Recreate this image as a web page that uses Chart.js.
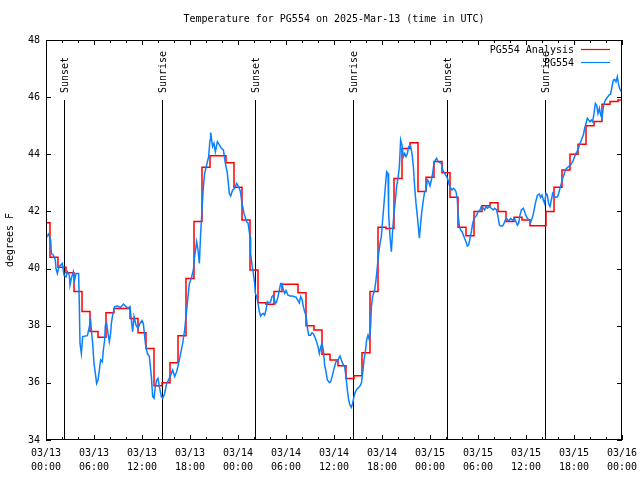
<!DOCTYPE html>
<html>
<head>
<meta charset="utf-8">
<title>Temperature for PG554</title>
<script src="https://cdn.jsdelivr.net/npm/chart.js@4.4.1/dist/chart.umd.min.js"></script>
<style>
  html, body { margin: 0; padding: 0; background: #fff; }
</style>
</head>
<body>
<canvas id="tempChart" width="640" height="480"></canvas>
<script>
// hours since 03/13 00:00 UTC
const redTemps = [41.6, 40.4, 40.05, 39.85, 39.2, 38.5, 37.8, 37.6, 38.45, 38.6, 38.6, 38.25, 37.75,
  37.2, 35.9, 36.0, 36.7, 37.65, 39.65, 41.65, 43.55, 43.95, 43.95, 43.7, 42.85,
  41.7, 39.95, 38.8, 38.75, 39.2, 39.45, 39.45, 39.15, 38.0, 37.85, 37.0, 36.8,
  36.6, 36.15, 36.25, 37.05, 39.2, 41.45, 41.4, 43.15, 44.2, 44.4, 42.7, 43.2,
  43.75, 43.35, 42.5, 41.45, 41.15, 42.0, 42.2, 42.3, 42.0, 41.65, 41.8, 41.7,
  41.5, 41.5, 42.0, 42.85, 43.45, 44.0, 44.35, 45.0, 45.15, 45.75, 45.85, 45.9];

const blueHours = [0, 0.08, 0.33, 0.58, 0.67, 0.92, 1.17, 1.25, 1.42, 1.63, 1.83, 2.04, 2.25, 2.5, 2.67, 2.92,
  3.0, 3.17, 3.42, 3.58, 3.75, 4.08, 4.17, 4.25, 4.42, 4.58, 5.17, 5.33, 5.58, 5.67, 5.83,
  6.0, 6.17, 6.33, 6.5, 6.67, 6.83, 7.04, 7.17, 7.33, 7.42, 7.58, 7.75, 7.92, 8.08, 8.17,
  8.33, 8.58, 8.92, 9.33, 9.67, 10.0, 10.25, 10.5, 10.67, 10.83, 11.0, 11.25, 11.5, 11.75,
  12.0, 12.17, 12.42, 12.67, 12.92, 13.17, 13.33, 13.5, 13.67, 13.83, 14.0, 14.17, 14.42,
  14.58, 14.83, 15.08, 15.33, 15.58, 15.83, 16.08, 16.33, 16.58, 16.83, 17.08, 17.33,
  17.58, 17.75, 17.92, 18.17, 18.42, 18.58, 18.83, 19.0, 19.17, 19.33, 19.5, 19.67, 19.83,
  20.08, 20.33, 20.5, 20.58, 20.83, 21.0, 21.17, 21.42, 21.67, 21.92, 22.17, 22.42, 22.67,
  22.92, 23.08, 23.33, 23.58, 23.83, 24.08, 24.3, 24.5, 24.75, 25.08, 25.25, 25.5, 25.58,
  25.75, 25.92, 26.08, 26.17, 26.33, 26.5, 26.67, 26.83, 27.0, 27.17, 27.33, 27.5, 27.67,
  27.83, 28.08, 28.25, 28.42, 28.67, 28.83, 29.0, 29.17, 29.33, 29.5, 29.67, 29.83, 30.0,
  30.25, 30.5, 30.75, 31.0, 31.25, 31.5, 31.67, 31.83, 32.0, 32.17, 32.33, 32.5, 32.67,
  32.83, 33.08, 33.25, 33.42, 33.58, 33.75, 34.0, 34.17, 34.33, 34.5, 34.67, 34.83, 35.0,
  35.17, 35.42, 35.58, 35.75, 36.0, 36.25, 36.5, 36.75, 36.92, 37.08, 37.33, 37.5, 37.67,
  37.83, 38.0, 38.17, 38.33, 38.5, 38.67, 38.92, 39.17, 39.42, 39.58, 39.75, 39.92, 40.08,
  40.25, 40.42, 40.58, 40.67, 40.83, 41.08, 41.25, 41.42, 41.58, 41.75, 41.92, 42.08,
  42.25, 42.42, 42.58, 42.75, 42.83, 43.0, 43.17, 43.33, 43.5, 43.67, 43.83, 44.0, 44.17,
  44.33, 44.5, 44.67, 44.83, 45.0, 45.17, 45.33, 45.58, 45.75, 45.92, 46.08, 46.25, 46.42,
  46.58, 46.67, 46.83, 47.0, 47.17, 47.33, 47.5, 47.67, 47.83, 48.0, 48.17, 48.33, 48.5,
  48.67, 48.83, 49.0, 49.25, 49.42, 49.58, 49.83, 50.08, 50.25, 50.42, 50.58, 50.75, 50.92,
  51.08, 51.25, 51.42, 51.5, 51.67, 51.83, 52.0, 52.17, 52.33, 52.5, 52.67, 52.83, 53.0,
  53.17, 53.33, 53.5, 53.67, 53.83, 54.0, 54.25, 54.42, 54.67, 54.83, 55.0, 55.17, 55.42,
  55.67, 55.92, 56.08, 56.33, 56.5, 56.67, 56.83, 57.08, 57.25, 57.42, 57.58, 57.75, 57.92,
  58.08, 58.33, 58.58, 58.75, 58.92, 59.08, 59.25, 59.42, 59.67, 59.83, 60.0, 60.17, 60.42,
  60.58, 60.83, 61.0, 61.17, 61.42, 61.67, 61.83, 62.0, 62.17, 62.33, 62.5, 62.67, 62.83,
  63.0, 63.17, 63.33, 63.5, 63.75, 63.92, 64.08, 64.25, 64.42, 64.58, 64.75, 64.92, 65.08,
  65.33, 65.58, 65.83, 66.0, 66.25, 66.5, 66.67, 66.92, 67.17, 67.33, 67.5, 67.67, 67.83,
  68.0, 68.17, 68.33, 68.5, 68.67, 68.83, 69.0, 69.17, 69.33, 69.5, 69.67, 69.83, 70.08,
  70.25, 70.42, 70.58, 70.75, 70.92, 71.08, 71.25, 71.42, 71.58, 71.75, 71.92, 72.0];

const blueTemps = [41.1, 41.12, 41.21, 41.0, 40.53, 40.47, 40.3, 40.0, 39.83, 40.07, 40.12, 40.18, 39.77, 39.71, 39.89, 39.77,
  39.42, 39.66, 39.89, 39.6, 39.83, 39.83, 38.67, 37.38, 37.03, 37.62, 37.65, 37.85, 38.18, 37.85, 37.38,
  36.68, 36.33, 35.98, 36.1, 36.45, 36.8, 36.74, 37.15, 37.5, 38.02, 38.08, 37.73, 37.44, 37.73, 38.08,
  38.37, 38.67, 38.69, 38.64, 38.76, 38.67, 38.61, 38.67, 38.2, 37.79, 38.32, 38.02, 37.91, 38.08,
  38.18, 38.08, 37.38, 37.03, 36.92, 36.22, 35.52, 35.46, 35.87, 36.1, 36.16, 35.87, 35.52,
  35.46, 35.63, 35.98, 36.1, 36.27, 36.45, 36.22, 36.39, 36.68, 37.03, 37.38, 37.85,
  38.55, 39.02, 39.48, 39.66, 39.95, 40.42, 40.94, 40.65, 40.18, 41.23, 42.05, 42.87, 43.33,
  43.62, 43.92, 44.5, 44.76, 44.27, 44.38, 44.09, 44.44, 44.33, 44.21, 44.15, 43.68, 43.33,
  42.63, 42.54, 42.75, 42.81, 42.98, 42.87, 42.7, 42.28, 41.93, 41.64, 41.6, 41.11, 40.53,
  40.12, 39.83, 39.48, 39.13, 39.02, 38.78, 38.49, 38.34, 38.41, 38.43, 38.37, 38.55, 38.84,
  38.8, 38.84, 39.02, 39.07, 38.77, 38.84, 39.02, 39.25, 39.48, 39.48, 39.25, 39.13, 39.23,
  39.07, 39.04, 39.04, 39.02, 39.0, 38.88, 38.8, 39.02, 38.93, 38.67, 38.49, 38.37, 37.94,
  37.67, 37.67, 37.75, 37.72, 37.62, 37.5, 37.27, 37.03, 37.25, 37.38, 37.15, 36.62, 36.39,
  36.1, 36.01, 36.04, 36.2, 36.5, 36.74, 36.8, 36.94, 36.8, 36.68, 36.56, 36.22, 35.75,
  35.4, 35.22, 35.14, 35.28, 35.52, 35.69, 35.8, 35.86, 35.98, 36.33, 36.8, 37.09, 37.5,
  37.67, 37.5, 37.97, 38.67, 39.02, 39.25, 39.6, 40.07, 40.53, 40.88, 41.12, 41.7,
  42.28, 42.87, 43.39, 43.33, 41.93, 41.12, 40.59, 41.35, 41.93, 42.4, 42.87, 43.16, 43.57,
  44.5, 44.32, 43.92, 44.03, 43.92, 44.03, 44.27, 44.27, 44.03, 43.57, 42.87, 42.28, 41.82,
  41.35, 41.06, 41.58, 42.05, 42.4, 42.69, 42.75, 43.1, 43.04, 42.9, 43.1, 43.33, 43.68,
  43.8, 43.86, 43.74, 43.71, 43.68, 43.45, 43.33, 43.22, 43.1, 42.92, 42.81, 42.75, 42.81,
  42.77, 42.69, 42.4, 41.93, 41.47, 41.35, 41.29, 41.17, 41.05, 40.94, 40.79, 40.82, 41.05,
  41.29, 41.58, 41.75, 41.81, 41.87, 41.99, 42.05, 42.17, 42.11, 42.05, 42.17, 42.11, 42.17,
  42.11, 42.05, 42.11, 42.05, 41.82, 41.52, 41.49, 41.49, 41.58, 41.7, 41.75, 41.68, 41.7,
  41.75, 41.7, 41.75, 41.64, 41.52, 41.58, 41.87, 42.05, 42.11, 41.99, 41.85, 41.76, 41.7,
  41.62, 41.82, 42.03, 42.28, 42.57, 42.61, 42.49, 42.57, 42.4, 42.28, 42.63, 42.57, 42.28,
  42.17, 42.4, 42.63, 42.54, 42.49, 42.51, 42.63, 42.81, 42.98, 43.16, 43.28, 43.45, 43.51,
  43.57, 43.63, 43.74, 43.86, 44.03, 44.15, 44.32, 44.5, 44.67, 44.91, 45.08, 45.26, 45.2,
  45.14, 45.2, 45.14, 45.43, 45.78, 45.72, 45.43, 45.61, 45.37, 45.26, 45.66, 45.84, 45.96,
  46.02, 46.08, 46.11, 46.37, 46.6, 46.62, 46.54, 46.72, 46.43, 46.27, 46.2, 46.15];

const sunHours = [2.28, 14.53, 26.17, 38.42, 50.17, 62.42];
const sunLabels = ['Sunset', 'Sunrise', 'Sunset', 'Sunrise', 'Sunset', 'Sunrise'];

const yTicks = [34, 36, 38, 40, 42, 44, 46, 48];

const monoFont = '"DejaVu Sans Mono", "Liberation Mono", monospace';
const RED = '#ff0000';
const BLUE = '#0a80ff';

function tickLabel(h) {
  var day = 13 + Math.floor(h / 24);
  var hr = h % 24;
  return ['03/' + day, (hr < 10 ? '0' : '') + hr + ':00'];
}

// frame, ticks, sun lines, legend and titles drawn gnuplot style
const gnuplotDecor = {
  id: 'gnuplotDecor',
  beforeDatasetsDraw(chart) {
    const ctx = chart.ctx;
    const xs = chart.scales.x;
    const ys = chart.scales.y;
    const bottom = chart.chartArea.bottom;
    ctx.save();
    ctx.strokeStyle = '#000';
    ctx.lineWidth = 1;
    ctx.fillStyle = '#000';
    ctx.font = '10px ' + monoFont;
    const topY = ys.getPixelForValue(34 + 0.85 * 14);
    sunHours.forEach(function (h, i) {
      const x = Math.round(xs.getPixelForValue(h)) + 0.5;
      ctx.beginPath();
      ctx.moveTo(x, bottom);
      ctx.lineTo(x, topY);
      ctx.stroke();
      ctx.save();
      ctx.translate(x + 1, topY - 7);
      ctx.rotate(-Math.PI / 2);
      ctx.textAlign = 'left';
      ctx.textBaseline = 'middle';
      ctx.fillText(sunLabels[i], 0, 0);
      ctx.restore();
    });
    ctx.restore();
  },
  afterDraw(chart) {
    const ctx = chart.ctx;
    const a = chart.chartArea;
    const xs = chart.scales.x;
    const ys = chart.scales.y;
    ctx.save();
    ctx.strokeStyle = '#000';
    ctx.lineWidth = 1;
    ctx.strokeRect(a.left + 0.5, a.top + 0.5, a.right - a.left - 1, a.bottom - a.top - 1);

    ctx.beginPath();
    for (var h = 0; h <= 72; h += 2) {
      const x = Math.round(xs.getPixelForValue(h)) + 0.5;
      const len = (h % 6 === 0) ? 5 : 3;
      ctx.moveTo(x, a.bottom); ctx.lineTo(x, a.bottom - len);
      ctx.moveTo(x, a.top); ctx.lineTo(x, a.top + len);
    }
    yTicks.forEach(function (v) {
      const y = Math.round(ys.getPixelForValue(v)) + 0.5;
      ctx.moveTo(a.left, y); ctx.lineTo(a.left + 5, y);
      ctx.moveTo(a.right, y); ctx.lineTo(a.right - 5, y);
    });
    ctx.stroke();

    // title
    ctx.fillStyle = '#000';
    ctx.font = '10px ' + monoFont;
    ctx.textAlign = 'center';
    ctx.textBaseline = 'middle';
    ctx.fillText('Temperature for PG554 on 2025-Mar-13 (time in UTC)', (a.left + a.right) / 2, 19);

    // y axis title
    ctx.save();
    ctx.translate(10, (a.top + a.bottom) / 2);
    ctx.rotate(-Math.PI / 2);
    ctx.fillText('degrees F', 0, 0);
    ctx.restore();

    // legend
    ctx.textAlign = 'right';
    ctx.fillText('PG554 Analysis', 574, 50);
    ctx.fillText('PG554', 574, 63);
    ctx.lineWidth = 1.2;
    ctx.strokeStyle = RED;
    ctx.beginPath(); ctx.moveTo(581, 49.5); ctx.lineTo(610, 49.5); ctx.stroke();
    ctx.strokeStyle = BLUE;
    ctx.beginPath(); ctx.moveTo(581, 62.5); ctx.lineTo(610, 62.5); ctx.stroke();
    ctx.restore();
  }
};

const ctx = document.getElementById('tempChart').getContext('2d');
const tempChart = new Chart(ctx, {
  type: 'line',
  data: {
    datasets: [{
      label: 'PG554 Analysis',
      data: redTemps.map(function (t, i) { return { x: i, y: t }; }),
      borderColor: RED,
      borderWidth: 1.5,
      stepped: 'middle',
      pointRadius: 0,
      order: 2
    }, {
      label: 'PG554',
      data: blueHours.map(function (h, i) { return { x: h, y: blueTemps[i] }; }),
      borderColor: BLUE,
      borderWidth: 1.5,
      pointRadius: 0,
      tension: 0,
      order: 1
    }]
  },
  options: {
    responsive: false,
    animation: false,
    devicePixelRatio: 1,
    layout: { padding: { top: 40, right: 18, left: 0, bottom: 0 } },
    plugins: {
      legend: { display: false },
      title: { display: false },
      tooltip: { enabled: false }
    },
    scales: {
      x: {
        type: 'linear',
        min: 0,
        max: 72,
        grid: { display: false, drawTicks: false },
        border: { display: false },
        ticks: {
          stepSize: 6,
          autoSkip: false,
          maxRotation: 0,
          padding: 6,
          color: '#000',
          font: { family: monoFont, size: 10, lineHeight: 1.4 },
          callback: function (v) { return tickLabel(v); }
        },
        afterFit: function (s) {
          s.height = 40;
          // keep the end labels from pushing the plot area in
          s.paddingLeft = 0;
          s.paddingRight = 0;
        }
      },
      y: {
        min: 34,
        max: 48,
        grid: { display: false, drawTicks: false },
        border: { display: false },
        ticks: {
          stepSize: 2,
          padding: 6,
          color: '#000',
          font: { family: monoFont, size: 10 }
        },
        afterFit: function (s) {
          s.width = 46;
          s.paddingTop = 0;
          s.paddingBottom = 0;
        }
      }
    }
  },
  plugins: [gnuplotDecor]
});
</script>
</body>
</html>
